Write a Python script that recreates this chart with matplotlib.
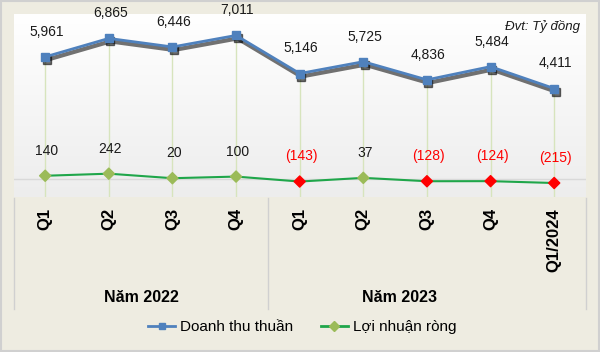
import numpy as np
import matplotlib
matplotlib.use("Agg")
import matplotlib.pyplot as plt
import matplotlib.transforms as mtrans
from matplotlib.lines import Line2D

plt.rcParams["font.family"] = ["Liberation Sans", "DejaVu Sans"]

quarters = ["Q1", "Q2", "Q3", "Q4", "Q1", "Q2", "Q3", "Q4", "Q1/2024"]
revenue = [5961, 6865, 6446, 7011, 5146, 5725, 4836, 5484, 4411]
profit = [140, 242, 20, 100, -143, 37, -128, -124, -215]
years = ["Năm 2022", "Năm 2023"]

blue = "#4F81BD"
green = "#1FA64A"
olive = "#9BBB59"
red = "#FF0000"

fig = plt.figure(figsize=(6, 3.52), dpi=100, facecolor="#EEECE1")
fig.patches.append(plt.Rectangle((0.002, 0.003), 0.996, 0.994, transform=fig.transFigure,
                                 fill=False, edgecolor="#D0D0D0", linewidth=1.5))

ax = fig.add_axes([14 / 600, 1 - 197 / 352, 572 / 600, 183 / 352])
x = np.arange(len(quarters))
ax.set_xlim(-0.49, 8.5)
ax.set_ylim(-900, 8060)

# white-to-grey gradient in the plot area
grad = np.linspace(1, 0, 256).reshape(-1, 1)
cmap = matplotlib.colors.LinearSegmentedColormap.from_list("g", ["#EDEDED", "#FFFFFF"])
ax.imshow(grad, extent=(0, 1, 0, 1), transform=ax.transAxes, aspect="auto",
          cmap=cmap, vmin=0, vmax=1, zorder=0)

ax.axhline(0, color="#D9D9D9", linewidth=1, zorder=1)
ax.vlines(x, -900, revenue, color="#D7E4BD", linewidth=1, zorder=1)

# shadow under the revenue line
shadow_tr = mtrans.offset_copy(ax.transData, fig=fig, x=1.5, y=-3, units="dots")
ax.plot(x, revenue, color="black", alpha=0.55, linewidth=3, marker="s", markersize=6,
        transform=shadow_tr, zorder=2)
ax.plot(x, revenue, color=blue, linewidth=2, marker="s", markersize=6,
        markerfacecolor=blue, markeredgecolor=blue, zorder=3)

ax.plot(x, profit, color=green, linewidth=1.5, zorder=3)
pcol = [olive if v >= 0 else red for v in profit]
ax.scatter(x, profit, marker="D", s=32, c=pcol, zorder=4)

for xi, v in zip(x, revenue):
    ax.annotate(f"{v:,}", (xi, v), xytext=(1, 13), textcoords="offset points",
                ha="center", va="bottom", fontsize=10, color="#1A1A1A")
for xi, v in zip(x, profit):
    txt = f"{v:,}" if v >= 0 else f"({-v:,})"
    ax.annotate(txt, (xi, v), xytext=(1, 13), textcoords="offset points",
                ha="center", va="bottom", fontsize=10,
                color="#1A1A1A" if v >= 0 else red)

ax.set_xticks(x)
ax.set_xticklabels(quarters, rotation=90, fontweight="bold", fontsize=12, va="top")
ax.tick_params(axis="x", length=0, pad=8)
ax.set_yticks([])
for s in ax.spines.values():
    s.set_visible(False)

ax.text(0.99, 0.93, "Đvt: Tỷ đồng", transform=ax.transAxes, ha="right", va="center",
        fontsize=9.5, style="italic", color="#1A1A1A")

# year group separators and labels
for px in [14, 268, 586]:
    fig.add_artist(Line2D([px / 600, px / 600], [1 - 198 / 352, 1 - 309 / 352],
                          color="#D0D0D0", linewidth=1))
fig.text(141 / 600, 1 - 297 / 352, years[0], ha="center", va="center",
         fontsize=11.5, fontweight="bold")
fig.text(400 / 600, 1 - 297 / 352, years[1], ha="center", va="center",
         fontsize=11.5, fontweight="bold")

handles = [Line2D([], [], color=blue, marker="s", markersize=5, linewidth=2),
           Line2D([], [], color=green, marker="D", markersize=5, markerfacecolor=olive,
                  markeredgecolor=olive, linewidth=2)]
fig.legend(handles, ["Doanh thu thuần", "Lợi nhuận ròng"], loc="center",
           bbox_to_anchor=(302 / 600, 1 - 327 / 352), ncol=2, frameon=False,
           fontsize=11, handlelength=1.8, handletextpad=0.3, columnspacing=1.8)

fig.savefig("out.png", dpi=100, facecolor=fig.get_facecolor())
